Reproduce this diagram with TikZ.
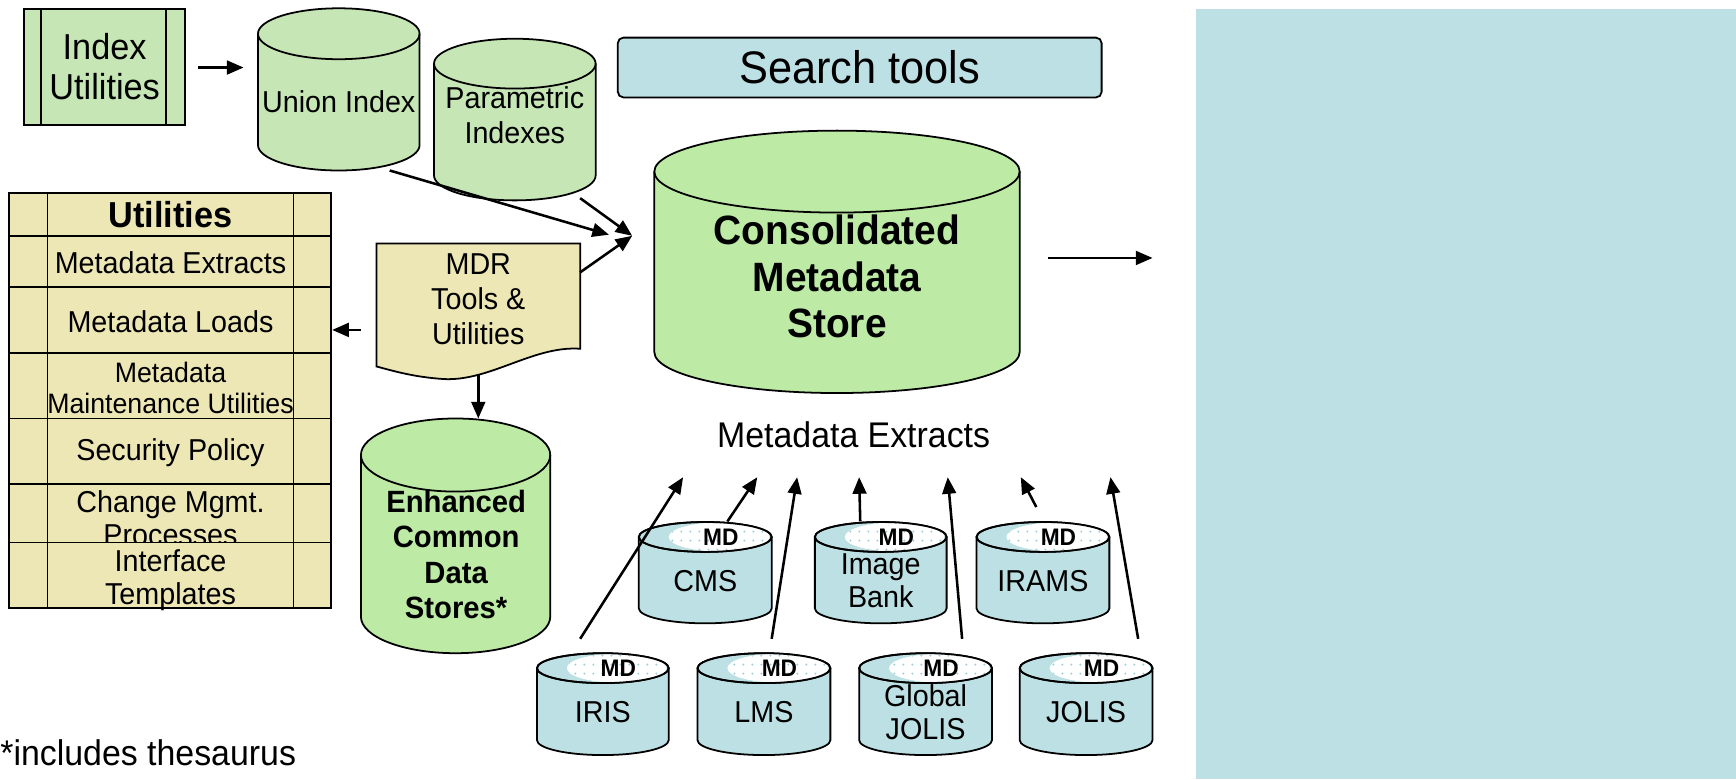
\documentclass[tikz,border=0pt]{standalone}
\usepackage{fontspec}
\setmainfont[FakeStretch=0.95]{Liberation Sans}
\usetikzlibrary{arrows.meta,patterns.meta,fit}

\definecolor{idxgreen}{HTML}{C6E6B6}
\definecolor{storegreen}{HTML}{BDEBA6}
\definecolor{khaki}{HTML}{EDE7B5}
\definecolor{paleblue}{HTML}{BCE0E3}
\definecolor{dotblue}{HTML}{9ECFD6}

\tikzset{
  outline/.style={draw=black, line width=0.8pt},
  conn/.style={line width=1.15pt, -{Triangle[length=7.5pt,width=6.2pt]}},
  lbl/.style={align=center, inner sep=0pt, text=black},
  box/.style={inner sep=0pt},
}

% upright drum: left x, right x, top y, bottom y, ellipse half-height, fill
\newcommand\drum[6]{%
  \pgfmathsetmacro\drumrx{(#2-#1)/2}%
  \filldraw[fill=#6,outline] (#1,{#3+#5}) -- (#1,{#4-#5})
    arc[start angle=180,end angle=0,x radius=\drumrx,y radius=#5]
    -- (#2,{#3+#5})
    arc[start angle=360,end angle=180,x radius=\drumrx,y radius=#5] -- cycle;
  \draw[outline] (#1,{#3+#5}) arc[start angle=180,end angle=0,x radius=\drumrx,y radius=#5];
}

% small source database with the dotted "MD" lid
% name, left x, right x, top y, bottom y, label
\newcommand\mddrum[6]{%
  \drum{#2}{#3}{#4}{#5}{13.5}{paleblue}
  \pgfmathsetmacro\mdcx{(#2+#3)/2}%
  \pgfmathsetmacro\mdrx{(#3-#2)/2}%
  \pgfmathsetmacro\mdwr{((#3-#2)-29)/2}%
  \pgfmathsetmacro\mdwx{#2+27+\mdwr}%
  \begin{scope}
    \clip (\mdcx,{#4+13.5}) ellipse[x radius=\mdrx, y radius=13.5];
    \fill[white] (\mdwx,{#4+13.5}) ellipse[x radius=\mdwr, y radius=13];
    \fill[pattern={Dots[radius=0.5pt,distance=4pt]}, pattern color=dotblue]
      (\mdwx,{#4+13.5}) ellipse[x radius=\mdwr, y radius=13];
  \end{scope}
  \draw[outline] (\mdcx,{#4+13.5}) ellipse[x radius=\mdrx, y radius=13.5];
  \node[box, fit={(#2,#4) (#3,#5)}] (#1) {};
  \node[lbl, font=\bfseries\fontsize{10.8}{12}\selectfont] (#1-md) at ({\mdcx+14},{#4+14}) {MD};
  \node[lbl, font=\fontsize{13.65}{15}\selectfont] (#1-t) at (\mdcx,{#4+53}) {#6};
}

\begin{document}
\begin{tikzpicture}[x=0.5pt,y=-0.5pt]
\useasboundingbox (0,0) rectangle (1568,704);

% blank panel on the right
\node[box, fit={(1080,8) (1568,704)}, fill=paleblue] (panel) {};

% index utilities
\node[box, fit={(22,8) (167,113)}, outline, fill=idxgreen] (iu) {};
\draw[outline] ([xshift=8pt]iu.north west) -- ([xshift=8pt]iu.south west)
               ([xshift=-9pt]iu.north east) -- ([xshift=-9pt]iu.south east);
\node[lbl, font=\fontsize{16.3}{18}\selectfont] (iu-t) at (iu.center) {Index\\Utilities};

% union index and parametric indexes
\drum{233}{379}{7.5}{154}{23}{idxgreen}
\node[box, fit={(233,7.5) (379,154)}] (union) {};
\node[lbl, font=\fontsize{13.65}{15}\selectfont] (union-t) at (306,92) {Union Index};

\drum{392}{538}{35}{181}{22.5}{idxgreen}
\node[box, fit={(392,35) (538,181)}] (param) {};
\node[lbl, font=\fontsize{13.65}{16}\selectfont] (param-t) at (465,104) {Parametric\\Indexes};

% search tools
\node[box, fit={(558,34) (995,88)}, outline, fill=paleblue, rounded corners=2.5pt] (search) {};
\node[lbl, font=\fontsize{20.6}{22}\selectfont] (search-t) at (search.center) {Search tools};

% consolidated store
\drum{591}{921}{118}{355}{37}{storegreen}
\node[box, fit={(591,118) (921,355)}] (cons) {};
\node[lbl, font=\bfseries\fontsize{18.5}{21}\selectfont] (cons-t) at (756,250) {Consolidated\\Metadata\\Store};

\node[lbl, font=\fontsize{16.1}{18}\selectfont] (extracts) at (771,393) {Metadata Extracts};

% utilities table, row by row
\node[box, fit={(8,174) (299,213)}, outline, fill=khaki] (r1) {};
\node[lbl, font=\bfseries\fontsize{16.3}{18}\selectfont] (r1-t) at (154,194) {Utilities};
\node[box, fit={(8,213) (299,259)}, outline, fill=khaki] (r2) {};
\node[lbl, font=\fontsize{13.65}{15}\selectfont] (r2-t) at (154,237) {Metadata Extracts};
\node[box, fit={(8,259) (299,319)}, outline, fill=khaki] (r3) {};
\node[lbl, font=\fontsize{13.65}{15}\selectfont] (r3-t) at (154,291) {Metadata Loads};
\node[box, fit={(8,319) (299,378)}, outline, fill=khaki] (r4) {};
\node[lbl, font=\fontsize{12.7}{14}\selectfont] (r4-t) at (154,350) {Metadata\\Maintenance Utilities};
\node[box, fit={(8,378) (299,437)}, outline, fill=khaki] (r5) {};
\node[lbl, font=\fontsize{13.65}{15}\selectfont] (r5-t) at (154,409) {Security Policy};
\node[box, fit={(8,437) (299,490)}, outline, fill=khaki] (r6) {};
\node[lbl, font=\fontsize{13.65}{15}\selectfont] (r6-t) at (154,468) {Change Mgmt.\\Processes};
\node[box, fit={(8,490) (299,549)}, outline, fill=khaki] (r7) {};
\node[lbl, font=\fontsize{13.65}{15}\selectfont] (r7-t) at (154,524) {Interface\\Templates};
\draw[outline] (43,174) -- (43,549) (265,174) -- (265,549);

% MDR document
\filldraw[outline, fill=khaki] (340,220) -- (524,220) -- (524,315)
  .. controls (480,312) and (440,347) .. (396,342)
  .. controls (372,340) and (355,335) .. (340,331) -- cycle;
\node[box, fit={(340,220) (524,342)}] (mdr) {};
\node[lbl, font=\fontsize{13.65}{15.8}\selectfont] (mdr-t) at (432,270) {MDR\\Tools \&\\Utilities};

% enhanced common data stores
\drum{326}{497}{378}{590}{33}{storegreen}
\node[box, fit={(326,378) (497,590)}] (ecds) {};
\node[lbl, font=\bfseries\fontsize{13.9}{16}\selectfont] (ecds-t) at (412,501) {Enhanced\\Common\\Data\\Stores*};

% source systems
\mddrum{cms}{577}{697}{471.5}{563}{CMS}
\mddrum{img}{736}{855}{471.5}{563}{Image\\Bank}
\mddrum{irams}{882}{1002}{471.5}{563}{IRAMS}
\mddrum{iris}{485}{604}{590}{682}{IRIS}
\mddrum{lms}{630}{750}{590}{682}{LMS}
\mddrum{gjolis}{776}{896}{590}{682}{Global\\JOLIS}
\mddrum{jolis}{921}{1041}{590}{682}{JOLIS}

\node[anchor=base west, inner sep=0pt, font=\fontsize{16.1}{18}\selectfont] (note) at (0,691) {*includes thesaurus};

% connector end points
\coordinate (iu-out) at (179,61);
\coordinate (union-in) at (220,61);
\coordinate (union-out) at (352,154);
\coordinate (union-tip) at (550,212);
\coordinate (param-out) at (524,179);
\coordinate (mdr-out) at (524,246);
\coordinate (cons-in) at (571,213);
\coordinate (mdr-left) at (326,298);
\coordinate (table-in) at (300,298);
\coordinate (mdr-down) at (432,339);
\coordinate (ecds-in) at (432,378);
\coordinate (cons-out) at (947,233);
\coordinate (panel-in) at (1041,233);

\draw[conn] (iu-out) -- (union-in);
\draw[conn] (union-out) -- (union-tip);
\draw[conn] (param-out) -- (cons-in);
\draw[conn] (mdr-out) -- (cons-in);
\draw[conn] (mdr-left) -- (table-in);
\draw[conn] (mdr-down) -- (ecds-in);
\draw[conn] (cons-out) -- (panel-in);

% extracts flowing up from the sources
\coordinate (iris-up) at (524,577);   \coordinate (iris-tip) at (617,431);
\coordinate (cms-up) at (657,471);    \coordinate (cms-tip) at (684,431);
\coordinate (lms-up) at (697,577);    \coordinate (lms-tip) at (720,431);
\coordinate (img-up) at (777,471);    \coordinate (img-tip) at (776,431);
\coordinate (gjolis-up) at (869,577); \coordinate (gjolis-tip) at (856,431);
\coordinate (irams-up) at (936,458);  \coordinate (irams-tip) at (922,431);
\coordinate (jolis-up) at (1028,577); \coordinate (jolis-tip) at (1003,431);
\foreach \s in {iris,cms,lms,img,gjolis,irams,jolis}
  \draw[conn] (\s-up) -- (\s-tip);
\end{tikzpicture}
\end{document}
